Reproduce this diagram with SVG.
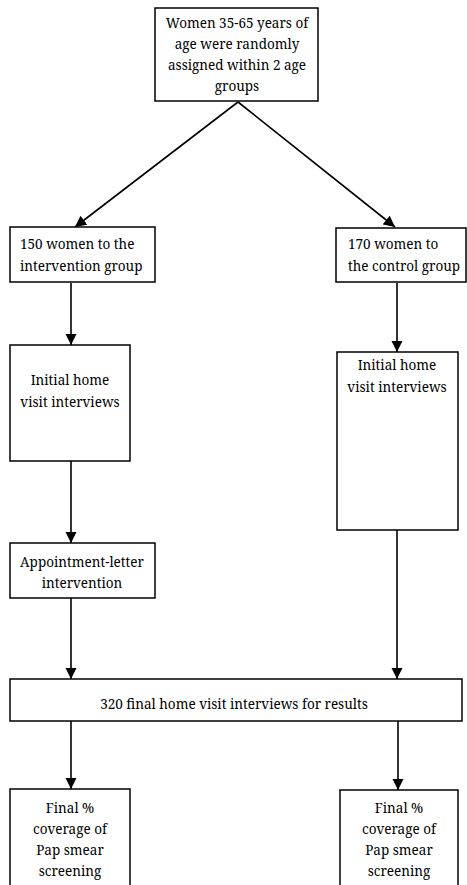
<svg xmlns="http://www.w3.org/2000/svg" width="467" height="885" viewBox="0 0 467 885">
<defs>
<marker id="ah" viewBox="0 0 10 10" refX="10" refY="5" markerWidth="7" markerHeight="7" orient="auto" markerUnits="strokeWidth">
<path d="M0,0 L10,5 L0,10 z" fill="#000"/>
</marker>
<style>
.box{fill:#fff;stroke:#000;stroke-width:1.5}
text{font-family:'Noto Serif','DejaVu Serif',serif;font-size:13.5px;fill:#000}
.c{text-anchor:middle}
.ln{stroke:#000;stroke-width:1.6;fill:none;marker-end:url(#ah)}
</style>
</defs>
<rect width="467" height="885" fill="#fff"/>
<g id="connectors">
<line class="ln" x1="238" y1="102" x2="75" y2="227"/>
<line class="ln" x1="238" y1="102" x2="395" y2="227"/>
<line class="ln" x1="71" y1="283" x2="71" y2="345"/>
<line class="ln" x1="397" y1="283" x2="397" y2="352"/>
<line class="ln" x1="71" y1="461" x2="71" y2="543"/>
<line class="ln" x1="71" y1="598" x2="71" y2="679"/>
<line class="ln" x1="397" y1="530" x2="397" y2="679"/>
<line class="ln" x1="71" y1="721" x2="71" y2="789"/>
<line class="ln" x1="398" y1="721" x2="398" y2="790"/>
</g>
<g id="start">
<rect class="box" x="155" y="8" width="163" height="93"/>
<text class="c" x="237" y="28">Women 35-65 years of</text>
<text class="c" x="237" y="49">age were randomly</text>
<text class="c" x="237" y="70">assigned within 2 age</text>
<text class="c" x="237" y="91">groups</text>
</g>
<g id="intervention">
<rect class="box" x="10" y="227" width="145" height="55"/>
<text x="20" y="249">150 women to the</text>
<text x="20" y="271">intervention group</text>
</g>
<g id="control">
<rect class="box" x="336" y="228" width="130" height="54"/>
<text x="348" y="249">170 women to</text>
<text x="348" y="271">the control group</text>
</g>
<g id="initial-left">
<rect class="box" x="10" y="345" width="120" height="116"/>
<text class="c" x="70" y="385">Initial home</text>
<text class="c" x="70" y="407">visit interviews</text>
</g>
<g id="initial-right">
<rect class="box" x="337" y="352" width="121" height="178"/>
<text class="c" x="397" y="370">Initial home</text>
<text class="c" x="397" y="392">visit interviews</text>
</g>
<g id="appointment">
<rect class="box" x="10" y="543" width="145" height="55"/>
<text class="c" x="82" y="567">Appointment-letter</text>
<text class="c" x="82" y="588">intervention</text>
</g>
<g id="final-interviews">
<rect class="box" x="10" y="679" width="452" height="42"/>
<text class="c" x="234" y="709">320 final home visit interviews for results</text>
</g>
<g id="coverage-left">
<rect class="box" x="10" y="789" width="120" height="110"/>
<text class="c" x="70" y="813">Final %</text>
<text class="c" x="70" y="834">coverage of</text>
<text class="c" x="70" y="855">Pap smear</text>
<text class="c" x="70" y="876">screening</text>
</g>
<g id="coverage-right">
<rect class="box" x="340" y="790" width="118" height="110"/>
<text class="c" x="399" y="813">Final %</text>
<text class="c" x="399" y="834">coverage of</text>
<text class="c" x="399" y="855">Pap smear</text>
<text class="c" x="399" y="876">screening</text>
</g>
</svg>
